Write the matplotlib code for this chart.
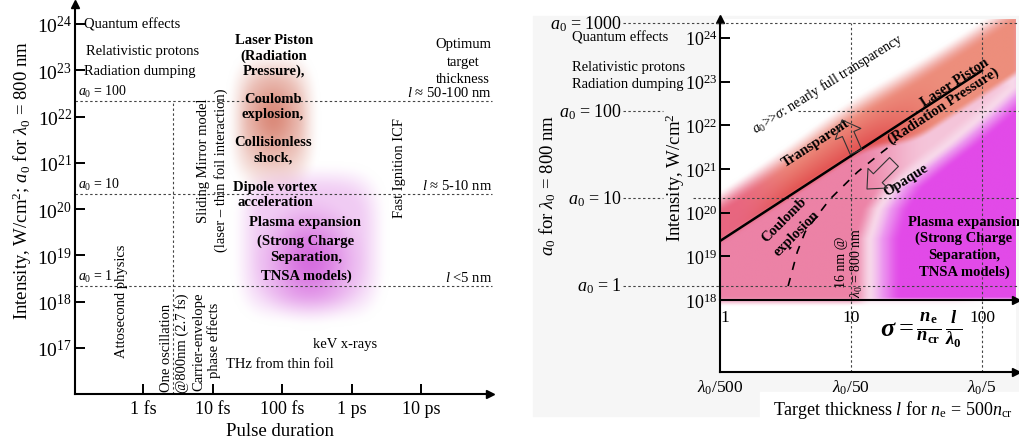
import numpy as np
import matplotlib
matplotlib.use('Agg')
import matplotlib.pyplot as plt
from matplotlib.patches import Rectangle

plt.rcParams['font.family'] = ['Liberation Serif', 'DejaVu Serif']
plt.rcParams['mathtext.fontset'] = 'custom'
plt.rcParams['mathtext.rm'] = 'Liberation Serif'
plt.rcParams['mathtext.it'] = 'Liberation Serif:italic'
plt.rcParams['mathtext.bf'] = 'Liberation Serif:bold'
try:
    plt.rcParams['mathtext.bfit'] = 'Liberation Serif:italic:bold'
    HAS_BFIT = True
except KeyError:
    HAS_BFIT = False

# ------------------------------------------------------------------ data
# left panel: pulse duration (log10 fs) vs intensity (log10 W/cm^2)
left_ytick_logI = [17, 18, 19, 20, 21, 22, 23, 24]
left_xtick_logtau = [0, 1, 2, 3, 4]
left_xtick_labels = ['1 fs', '10 fs', '100 fs', '1 ps', '10 ps']
a0_labels_left = ['100', '10', '1']
a0_logI_left = [22.33, 20.33, 18.33]
thickness_labels_left = [r'$l$ ≈ 50-100 nm', r'$l$ ≈ 5-10 nm', r'$l$ <5 nm']
one_oscillation_logtau = 0.43          # 2.7 fs

# right panel: sigma (log10) vs intensity (log10 W/cm^2)
right_ytick_logI = [18, 19, 20, 21, 22, 23, 24]
sigma_tick_log = [0, 1, 2]
sigma_tick_labels = ['1', '10', '100']
thickness_tick_labels = [r'$\lambda_0$/500', r'$\lambda_0$/50', r'$\lambda_0$/5']
a0_labels_right = ['1000', '100', '10', '1']
a0_logI_right = [24.33, 22.33, 20.33, 18.33]
piston_logsigma = [0.0, 2.0]
piston_logI = [19.35, 23.25]
coulomb_logsigma = [0.52, 0.59, 0.65, 0.74, 0.84, 1.05, 1.24, 1.34]
coulomb_logI = [18.32, 19.10, 19.56, 19.92, 20.31, 20.93, 21.39, 21.62]

# ------------------------------------------------------------------ layout helpers
W, H = 1020, 439
fig = plt.figure(figsize=(W / 100, H / 100), dpi=100)


def rect(x0, y0, x1, y1):
    return [x0 / W, 1 - y1 / H, (x1 - x0) / W, (y1 - y0) / H]


def LX(x):
    return (x - 143) / 69.5


def LY(y):
    return 17 + (349 - y) / 46.3


def RX(x):
    return (x - 720) / 131.0


def RY(y):
    return 18 + (301 - y) / 43.7


def sm(e0, e1, x):
    t = np.clip((x - e0) / (e1 - e0), 0, 1)
    return t * t * (3 - 2 * t)


def C(rgb):
    return np.array(rgb, float) / 255.0


def over(dst, col, a):
    col = np.asarray(col, float)
    if col.ndim == 1:
        col = col / 255.0 if col.max() > 1 else col
    return dst * (1 - a[..., None]) + col * a[..., None]


# background panel of right figure
fig.patches.append(Rectangle((533 / W, 1 - 417 / H), (W - 533) / W, 400 / H,
                             transform=fig.transFigure, color='#f6f6f6', zorder=-5))
fig.patches.append(Rectangle((760 / W, 1 - 428 / H), (W - 760) / W, 35 / H,
                             transform=fig.transFigure, color='white', zorder=-4))

DOT = dict(ls=(0, (2.2, 2.2)), lw=0.8, color='#444444')

# ================================================================== LEFT PANEL
axL = fig.add_axes(rect(75, 5, 490, 395))
for s in ['top', 'right']:
    axL.spines[s].set_visible(False)
for s in ['left', 'bottom']:
    axL.spines[s].set_linewidth(1.5)
axL.plot(0, 1, '^k', ms=6, transform=axL.transAxes, clip_on=False)
axL.plot(1, 0, '>k', ms=6, transform=axL.transAxes, clip_on=False)

axL.set_yticks(left_ytick_logI)
axL.set_yticklabels([r'$10^{%d}$' % v for v in left_ytick_logI], fontsize=14)
axL.set_xticks(left_xtick_logtau)
axL.set_xticklabels(left_xtick_labels, fontsize=13)
axL.tick_params(axis='both', direction='in', length=7, width=1.4, pad=2)
axL.tick_params(axis='x', pad=4)

# blobs
gx = np.linspace(195, 420, 260)
gy = np.linspace(25, 350, 360)
X, Y = np.meshgrid(gx, gy)
img = np.ones(X.shape + (3,))
r = (np.abs((X - 310) / 80) ** 4 + np.abs((Y - 245) / 83) ** 4) ** (1 / 4)
r2 = np.hypot((X - 310) / 62, (Y - 262) / 70)
a_p = 0.30 * (1 - sm(0.6, 1.0, r)) + 0.55 * (1 - sm(0.0, 1.0, r2))
img = over(img, (208, 85, 218), np.clip(a_p, 0, 1))
r = (np.abs((X - 273) / 48) ** 3 + np.abs((Y - 122) / 76) ** 3) ** (1 / 3)
r2 = np.hypot((X - 273) / 40, (Y - 118) / 58)
a_r = 0.35 * (1 - sm(0.5, 1.0, r)) + 0.45 * (1 - sm(0.0, 1.0, r2))
img = over(img, (210, 110, 90), np.clip(a_r, 0, 1))
axL.imshow(img, extent=(LX(195), LX(420), LY(350), LY(25)), origin='upper',
           aspect='auto', interpolation='bilinear', zorder=0)
axL.set_xlim(LX(75), LX(490))
axL.set_ylim(LY(395), LY(5))

for v in a0_logI_left:
    axL.plot([LX(75), LX(492)], [v, v], clip_on=False, **DOT)
axL.plot([one_oscillation_logtau] * 2, [LY(395), a0_logI_left[0]], **DOT)

for lab, v in zip(a0_labels_left, a0_logI_left):
    axL.text(LX(78), v + 0.05, r'$a_0$ = ' + lab, fontsize=10, ha='left', va='bottom')
for lab, v in zip(thickness_labels_left, a0_logI_left):
    axL.text(LX(492), v + 0.05, lab, fontsize=10.5, ha='right', va='bottom')

fs = 10.5
axL.text(LX(84), LY(25), 'Quantum effects', fontsize=fs, va='center')
axL.text(LX(86), LY(52), 'Relativistic protons', fontsize=fs, va='center')
axL.text(LX(84), LY(72), 'Radiation dumping', fontsize=fs, va='center')
for i, s in enumerate(['Optimum', 'target', 'thickness']):
    axL.text(LX(463), LY(45 + 17.5 * i), s, fontsize=fs, ha='center', va='center')

bold_lines = [('Laser Piston', 274, 41), ('(Radiation', 274, 56), ('Pressure),', 274, 71),
              ('Coulomb', 273, 100), ('explosion,', 273, 114),
              ('Collisionless', 273, 143), ('shock,', 273, 158),
              ('Dipole vortex', 275, 188), ('acceleration', 275, 202),
              ('Plasma expansion', 305, 223), ('(Strong Charge', 306, 241),
              ('Separation,', 306, 258), ('TNSA models)', 306, 276)]
for s, xp, yp in bold_lines:
    axL.text(LX(xp), LY(yp), s, fontsize=10.5, fontweight='bold', ha='center', va='center')

vert = [('Sliding Mirror model', 203, 161), ('(laser – thin foil interaction)', 221, 170),
        ('Fast Ignition ICF', 400, 168), ('Attosecond physics', 122, 301),
        ('One oscillation', 167, 348), ('@800nm (2.7 fs)', 182, 343),
        ('Carrier-envelope', 199, 342), ('phase effects', 214, 340)]
for s, xp, yp in vert:
    axL.text(LX(xp), LY(yp), s, fontsize=10.5, rotation=90, ha='center', va='center')

axL.text(LX(226), LY(364), 'THz from thin foil', fontsize=fs, va='center')
axL.text(LX(313), LY(345), 'keV x-rays', fontsize=fs, va='center')
axL.text(LX(280), LY(431), 'Pulse duration', fontsize=13.5, ha='center', va='center')
fig.text(22 / W, 1 - 180 / H, r'Intensity, W/cm$^2$; $a_0$ for $\lambda_0$ = 800 nm',
         rotation=90, fontsize=13.5, ha='center', va='center')

# ================================================================== RIGHT PANEL
axR = fig.add_axes(rect(720, 20, 1016, 373))
xl = (RX(720), RX(1016))
yl = (RY(373), RY(20))
for s in ['top', 'right']:
    axR.spines[s].set_visible(False)
for s in ['left', 'bottom']:
    axR.spines[s].set_linewidth(1.5)
axR.plot(0, 1, '^k', ms=6, transform=axR.transAxes, clip_on=False)
axR.plot(1, 0, '>k', ms=6, transform=axR.transAxes, clip_on=False)

# colour map of regimes
gx = np.linspace(720, 1016, 500)
gy = np.linspace(20, 373, 600)
X, Y = np.meshgrid(gx, gy)
slope = (piston_logI[1] - piston_logI[0]) / (piston_logsigma[1] - piston_logsigma[0])
Yline = 301 - 43.7 * (piston_logI[0] + slope * (X - 720) / 131.0 - 18)
dv = Yline - Y
bnd_y = [88, 120, 145, 168, 188, 210, 240, 305]
bnd_x = [1020, 985, 955, 925, 900, 885, 876, 876]
xb = np.interp(Y, bnd_y, bnd_x)
h = X - xb
top_off = 40 + 6 * np.exp(-((X - 850) / 60.0) ** 2)
bottom = 1 - sm(297, 308, Y)
img = np.ones(X.shape + (3,))
# faint pinkish base of the coloured zone
a_base = (1 - sm(top_off - 12, top_off + 12, dv)) * bottom * sm(-40, -10, dv + 200)
img = over(img, (247, 214, 232), a_base * 0.9)
# pink (below line)
a_pk = (1 - sm(-2, 2, dv)) * bottom * (1 - sm(-24, -4, h))
a_pk *= 1 - 0.75 * sm(850, 930, X) * (1 - sm(170, 230, Y))
img = over(img, (236, 130, 166), a_pk)
# red / salmon band (around line)
lower = -24 * sm(850, 930, X)
a_b = sm(lower - 6, lower + 4, dv) * (1 - sm(top_off - 14, top_off + 12, dv))
t = np.clip(dv / top_off, 0, 1)[..., None]
red = C([226, 80, 80])
salmon = C([240, 158, 138])
col = red * (1 - t) + salmon * t
u = sm(860, 950, X)[..., None]
col = col * (1 - u) + C([237, 142, 124]) * u
v = (1 - sm(730, 800, X))[..., None]
col = col * (1 - v) + C([232, 102, 128]) * v
img = img * (1 - a_b[..., None]) + col * a_b[..., None]
# magenta (plasma expansion)
a_m = sm(-8, 8, h) * (1 - sm(298, 302, Y))
w = sm(0, 26, h)[..., None]
mcol = C([238, 165, 240]) * (1 - w) + C([226, 74, 232]) * w
img = img * (1 - a_m[..., None]) + mcol * a_m[..., None]
axR.imshow(img, extent=(RX(720), RX(1016), RY(373), RY(20)), origin='upper',
           aspect='auto', interpolation='bilinear', zorder=0)
axR.set_xlim(*xl)
axR.set_ylim(*yl)

axR.set_yticks(right_ytick_logI)
axR.set_yticklabels([r'$10^{%d}$' % v for v in right_ytick_logI], fontsize=13)
axR.set_xticks(sigma_tick_log)
axR.set_xticklabels(thickness_tick_labels, fontsize=12.5)
axR.tick_params(axis='y', direction='in', length=7, width=1.4, pad=2)
axR.tick_params(axis='x', direction='in', length=0, pad=4)

# sigma axis
axR.plot([RX(720), RX(1016)], [18, 18], color='k', lw=1.5, clip_on=False, zorder=3)
axR.plot(RX(1016), 18, '>k', ms=6, clip_on=False, zorder=3)
for v, lab in zip(sigma_tick_log, sigma_tick_labels):
    axR.text(v + (0.04 if v == 0 else 0.0), RY(318), lab, fontsize=12.5,
             ha='center', va='center')
if HAS_BFIT:
    formula = r'$\mathbfit{\sigma} = \frac{\mathbfit{n}_\mathbf{e}}{\mathbfit{n}_\mathbf{cr}}\,\frac{\mathbfit{l}}{\mathbfit{\lambda}_\mathbf{0}}$'
else:
    formula = r'$\sigma = \frac{n_\mathrm{e}}{n_\mathrm{cr}}\,\frac{l}{\lambda_0}$'
axR.text(RX(921), RY(330), formula, fontsize=19, ha='center', va='center')

# reference lines
for v in sigma_tick_log[1:]:
    axR.plot([v, v], [yl[0], a0_logI_right[0]], zorder=2, clip_on=False, **DOT)
segs = [[(623, 1020)], [(623, 663), (798, 1020)], [(623, 663), (693, 1020)], [(623, 1020)]]
for v, sg in zip(a0_logI_right, segs):
    for x0, x1 in sg:
        axR.plot([RX(x0), RX(x1)], [v, v], clip_on=False, zorder=2, **DOT)
for lab, v in zip(a0_labels_right, a0_logI_right):
    axR.text(RX(622), v, r'$a_0$ = ' + lab, fontsize=13, ha='right', va='center')

# regime lines
axR.plot(piston_logsigma, piston_logI, color='k', lw=1.8, zorder=4)
axR.plot(coulomb_logsigma, coulomb_logI, color='k', lw=1.2, ls=(0, (5, 5)), zorder=4)

# hollow arrows
for (x0, y0), (x1, y1) in [((856, 153), (842, 121)), ((894, 163), (867, 190))]:
    axR.annotate('', xy=(RX(x1), RY(y1)), xytext=(RX(x0), RY(y0)),
                 arrowprops=dict(arrowstyle='simple,head_length=0.55,head_width=1.0,tail_width=0.45',
                                 fc='none', ec='#333333', lw=0.8, shrinkA=0, shrinkB=0,
                                 mutation_scale=20), zorder=5)

# texts of right panel
fsr = 10.5
axR.text(RX(572), RY(38), 'Quantum effects', fontsize=10.5, va='center')
axR.text(RX(572), RY(68), 'Relativistic protons', fontsize=10.5, va='center')
axR.text(RX(572), RY(85), 'Radiation dumping', fontsize=10.5, va='center')
fig.text(548 / W, 1 - 185 / H, r'$a_0$ for $\lambda_0$ = 800 nm', rotation=90,
         fontsize=13.5, ha='center', va='center')
fig.text(675 / W, 1 - 178 / H, r'Intensity, W/cm$^2$', rotation=90,
         fontsize=13.5, ha='center', va='center')
axR.text(RX(828), RY(84), r'$a_0$>>$\sigma$: nearly full transparency', fontsize=10,
         rotation=32, rotation_mode='anchor', ha='center', va='center')
axR.text(RX(816), RY(143), 'Transparent', fontsize=fsr, fontweight='bold',
         rotation=33, rotation_mode='anchor', ha='center', va='center')
axR.text(RX(955), RY(83), 'Laser Piston', fontsize=fsr, fontweight='bold',
         rotation=33, rotation_mode='anchor', ha='center', va='center')
axR.text(RX(944), RY(106), '(Radiation Pressure)', fontsize=fsr, fontweight='bold',
         rotation=33, rotation_mode='anchor', ha='center', va='center')
axR.text(RX(906), RY(180), 'Opaque', fontsize=fsr, fontweight='bold',
         rotation=32, rotation_mode='anchor', ha='center', va='center')
axR.text(RX(784), RY(220), 'Coulomb', fontsize=fsr, fontweight='bold',
         rotation=45, rotation_mode='anchor', ha='center', va='center')
axR.text(RX(797), RY(234), 'explosion', fontsize=fsr, fontweight='bold',
         rotation=45, rotation_mode='anchor', ha='center', va='center')
axR.text(RX(842), RY(262), '16 nm @', fontsize=10, rotation=90, ha='center', va='center')
axR.text(RX(857), RY(263), r'$\lambda_0$ = 800 nm', fontsize=10, rotation=90,
         ha='center', va='center')
for i, s in enumerate(['Plasma expansion', '(Strong Charge', 'Separation,', 'TNSA models)']):
    axR.text(RX(964), RY(222 + 16.7 * i), s, fontsize=fsr, fontweight='bold',
             ha='center', va='center')
axR.text(RX(893), RY(410), r'Target thickness $l$ for $n_\mathrm{e}$ = 500$n_\mathrm{cr}$',
         fontsize=13, ha='center', va='center')

fig.savefig('out.png', dpi=100)
